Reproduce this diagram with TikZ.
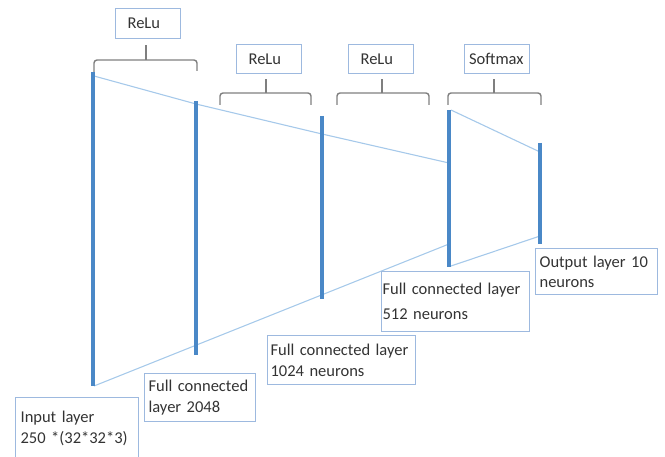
\documentclass[tikz,border=0pt]{standalone}
\usepackage{fontspec}
\setmainfont{Carlito}
\begin{document}
\begin{tikzpicture}[x=1pt,y=-1pt,
  bar/.style={line width=3.6pt, draw=barblue},
  thin/.style={line width=1.1pt, draw=lineblue},
  brk/.style={line width=1.4pt, draw=brkgray, rounded corners=3pt},
  actbox/.style={draw=boxblue, line width=1.2pt, anchor=north west, inner sep=0pt,
     font=\fontsize{16.5}{20}\selectfont, text=txtgray, align=left},
  lbl/.style={draw=boxblue, line width=1.2pt, anchor=north west, inner xsep=4pt, inner ysep=0pt,
     font=\fontsize{16.5}{20.5}\selectfont, text=txtgray, align=left}
]
\definecolor{barblue}{HTML}{4A88C7}
\definecolor{lineblue}{HTML}{A6C9EA}
\definecolor{brkgray}{HTML}{7F7F7F}
\definecolor{boxblue}{HTML}{9DB9DF}
\definecolor{txtgray}{HTML}{333333}
\useasboundingbox (0,0) rectangle (665,457);
\clip (0,0) rectangle (665,457);

% activation boxes
\node[actbox, minimum width=65pt, minimum height=30pt, text width=57pt, inner xsep=0pt] (r1) at (115,8) {\hspace*{8pt}ReLu};
\node[actbox, minimum width=65pt, minimum height=29pt, text width=57pt] (r2) at (236,44) {\hspace*{8pt}ReLu};
\node[actbox, minimum width=65pt, minimum height=29pt, text width=57pt] (r3) at (348,44) {\hspace*{8pt}ReLu};
\node[actbox, minimum width=65pt, minimum height=29pt, text width=62pt] (r4) at (464,44) {\hspace*{3pt}Softmax};

% brackets
\draw[brk] (94,72) |- (146,60) -| (197,71);
\draw[brk] (146,60) -- (146,45);
\draw[brk] (220,105) |- (266,93) -| (311,105);
\draw[brk] (266,93) -- (266,79);
\draw[brk] (337,105) |- (382,93) -| (429,105);
\draw[brk] (382,93) -- (382,79);
\draw[brk] (448,105) |- (494,93) -| (541,105);
\draw[brk] (494,93) -- (494,79);

% layer bars
\coordinate (b1t) at (93,72);  \coordinate (b1b) at (93,386);
\coordinate (b2t) at (196,101); \coordinate (b2b) at (196,355);
\coordinate (b3t) at (322,116); \coordinate (b3b) at (322,299);
\coordinate (b4t) at (449,110); \coordinate (b4b) at (449,267);
\coordinate (b5t) at (540,143); \coordinate (b5b) at (540,244);

% connecting lines
\coordinate (t1) at (94,76);   \coordinate (t2) at (196,104);
\coordinate (t3) at (322,134); \coordinate (t4) at (449,163);
\coordinate (t5) at (451,110); \coordinate (t6) at (540,152);
\coordinate (u1) at (94,386);  \coordinate (u2) at (449,244);
\coordinate (u3) at (451,266); \coordinate (u4) at (540,236);
\draw[thin] (t1) -- (t2) -- (t3) -- (t4);
\draw[thin] (t5) -- (t6);
\draw[thin] (u1) -- (u2);
\draw[thin] (u3) -- (u4);

\draw[bar] (b1t) -- (b1b);
\draw[bar] (b2t) -- (b2b);
\draw[bar] (b3t) -- (b3b);
\draw[bar] (b4t) -- (b4b);
\draw[bar] (b5t) -- (b5b);

% layer labels
\node[lbl, minimum width=123pt, minimum height=62pt, text width=113pt, inner xsep=5pt] (l1) at (15,397)
  {Input layer\\250 *(32*32*3)};
\node[lbl, minimum width=111pt, minimum height=48pt, text width=103pt] (l2) at (144,373)
  {Full connected\\layer 2048};
\node[lbl, minimum width=148pt, minimum height=49pt, text width=142pt, inner xsep=3pt] (l3) at (267,335)
  {Full connected layer\\1024 neurons};
\node[lbl, minimum width=148pt, minimum height=60pt, text width=146pt, inner xsep=1pt,
      font=\fontsize{16.5}{25}\selectfont] (l4) at (381,271)
  {Full connected layer\\512 neurons};
\node[lbl, minimum width=122pt, minimum height=46pt, text width=114pt] (l5) at (535,248)
  {Output layer 10\\neurons};
\end{tikzpicture}
\end{document}
